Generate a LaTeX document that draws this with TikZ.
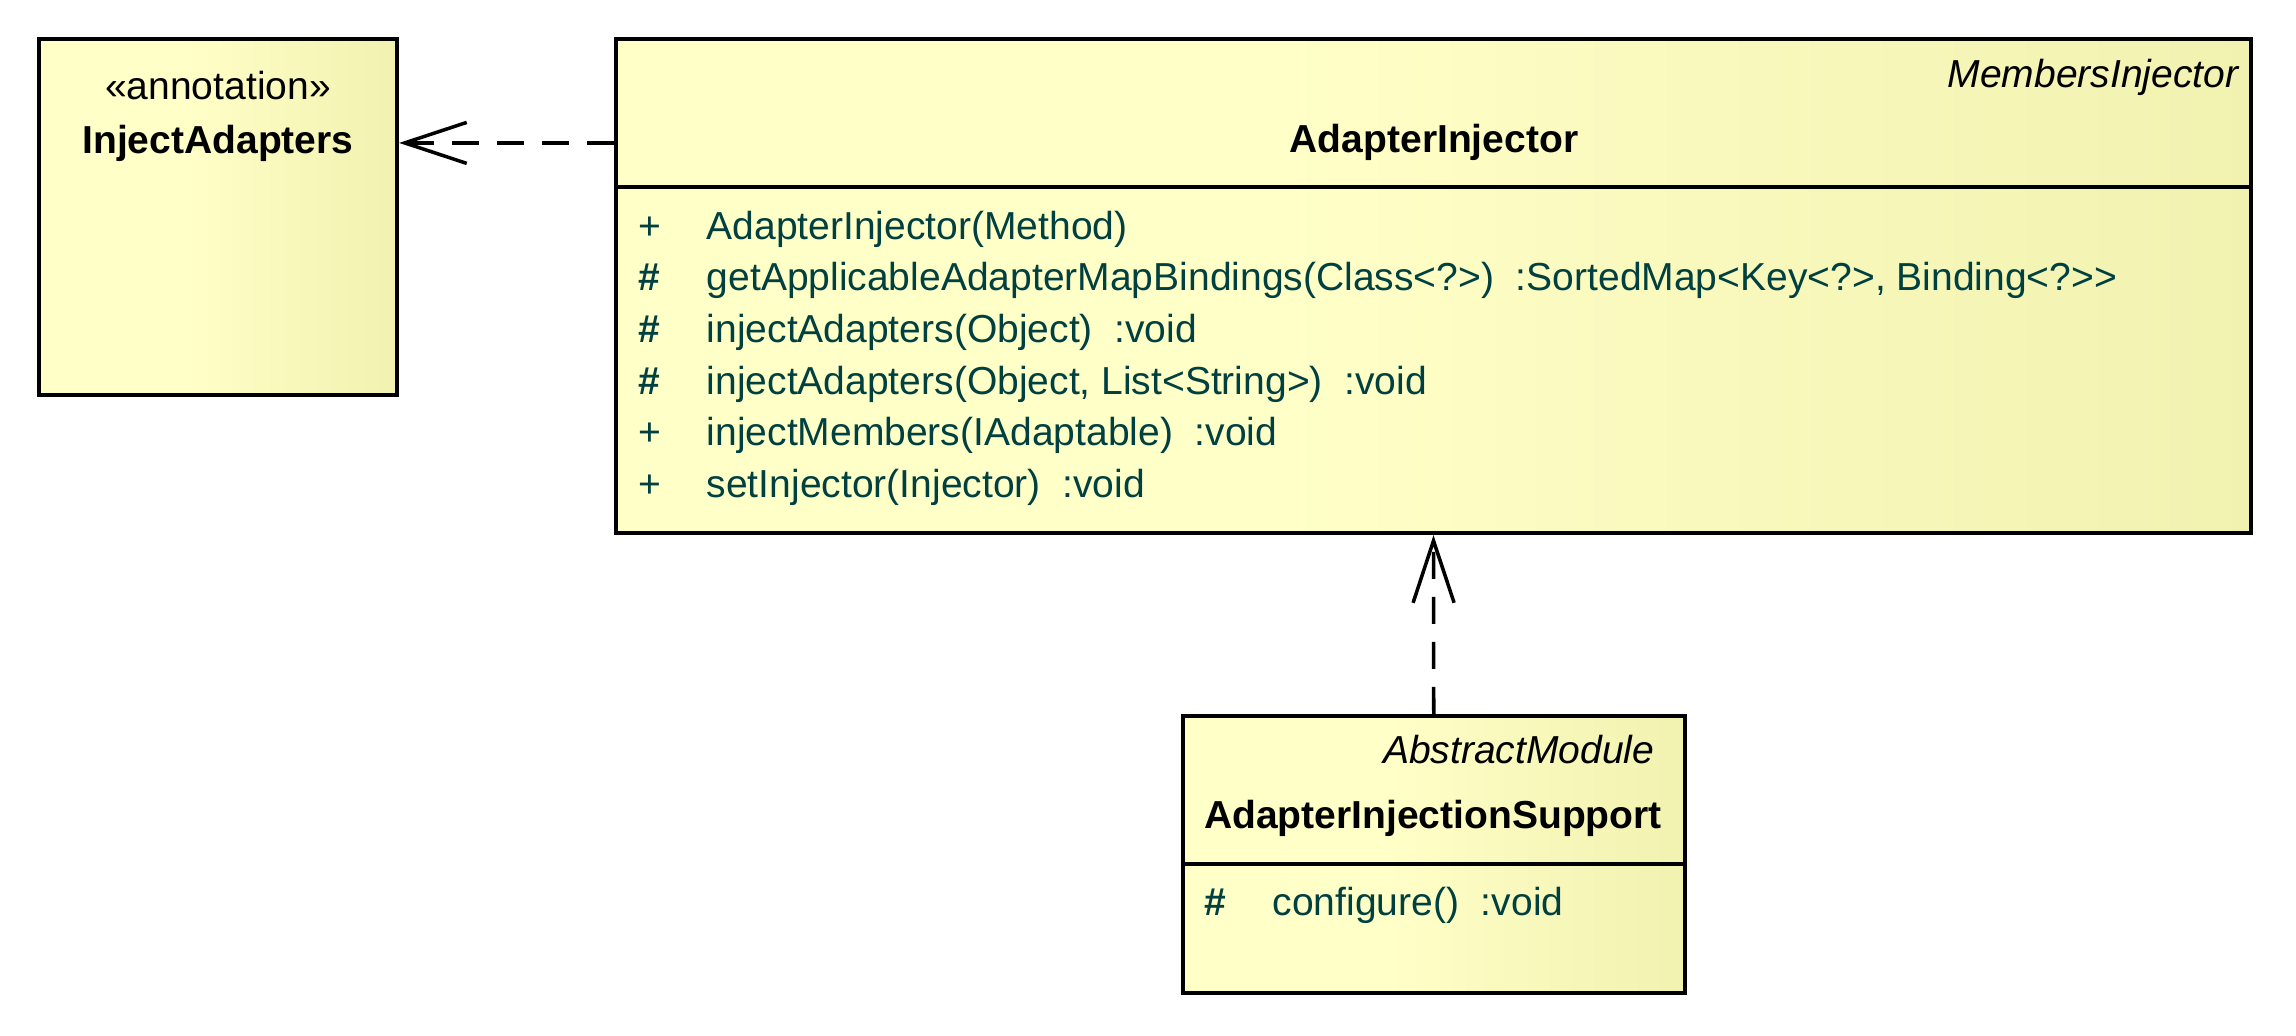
\documentclass[tikz,border=0pt]{standalone}
\usepackage{fontspec}
\setmainfont{Liberation Sans}
\usetikzlibrary{arrows.meta}
\definecolor{umllight}{RGB}{255,255,200}
\definecolor{umldark}{RGB}{230,230,156}
\definecolor{optext}{RGB}{0,64,64}
\pgfdeclarehorizontalshading{umlfill}{100bp}{color(0bp)=(umllight); color(45bp)=(umllight); color(100bp)=(umldark)}
\newcommand{\umlsize}{\fontsize{11.1}{13}\selectfont}
\newcommand{\vis}[1]{\makebox[0.68cm][l]{#1}}

\begin{document}
\begin{tikzpicture}[x=0.01cm,y=-0.01cm]
	\tikzset{every node/.style={inner sep=0pt}}
	\tikzset{classbox/.style={draw, line width=1.15pt, shade, shading=umlfill}}
	\tikzset{cname/.style={anchor=base, font=\umlsize\bfseries}}
	\tikzset{super/.style={anchor=base east, font=\umlsize\itshape}}
	\tikzset{op/.style={anchor=base west, font=\umlsize, text=optext}}
	\tikzset{dep/.style={draw, line width=1pt, dash pattern=on 7.7pt off 5.1pt,
		-{Straight Barb[length=0.62cm, width=0.41cm]}}}
	\useasboundingbox (0,0) rectangle (2296,1036);
	% boxes
	\node[classbox, minimum width=3.575cm, minimum height=3.555cm] (annot) at (218.25,217.25) {};
	\node[classbox, minimum width=16.34cm, minimum height=1.475cm] (injhead) at (1433.5,113.25) {};
	\node[classbox, minimum width=16.34cm, minimum height=3.46cm] (injbody) at (1433.5,360) {};
	\node[classbox, minimum width=5.015cm, minimum height=1.475cm] (suphead) at (1433.75,789.75) {};
	\node[classbox, minimum width=5.015cm, minimum height=1.29cm] (supbody) at (1433.75,928.25) {};
	% InjectAdapters
	\node[anchor=base, font=\umlsize] (annotstereo) at (218,99) {«annotation»};
	\node[cname] (annotname) at (218,153) {InjectAdapters};
	% AdapterInjector
	\node[super] (injsuper) at (2239,87) {MembersInjector};
	\node[cname] (injname) at (1434,152) {AdapterInjector};
	\node[op] (injop1) at (638,239) {\vis{+}AdapterInjector(Method)};
	\node[op] (injop2) at (638,290.7) {\vis{\bfseries\#}getApplicableAdapterMapBindings(Class<?>)~~:SortedMap<Key<?>, Binding<?>\kern0pt>};
	\node[op] (injop3) at (638,342.4) {\vis{\bfseries\#}injectAdapters(Object)~~:void};
	\node[op] (injop4) at (638,394.1) {\vis{\bfseries\#}injectAdapters(Object, List<String>)~~:void};
	\node[op] (injop5) at (638,445.8) {\vis{+}injectMembers(IAdaptable)~~:void};
	\node[op] (injop6) at (638,497.5) {\vis{+}setInjector(Injector)~~:void};
	% AdapterInjectionSupport
	\node[super] (supsuper) at (1655,763) {AbstractModule};
	\node[cname] (supname) at (1433,828) {AdapterInjectionSupport};
	\node[op] (supop1) at (1204,915) {\vis{\bfseries\#}configure()~~:void};
	% dependencies
	\draw[dep] (injhead.west |- annotname) -- (annot.east |- annotname);
	\draw[dep] (suphead.north) -- (injbody.south);
\end{tikzpicture}
\end{document}
